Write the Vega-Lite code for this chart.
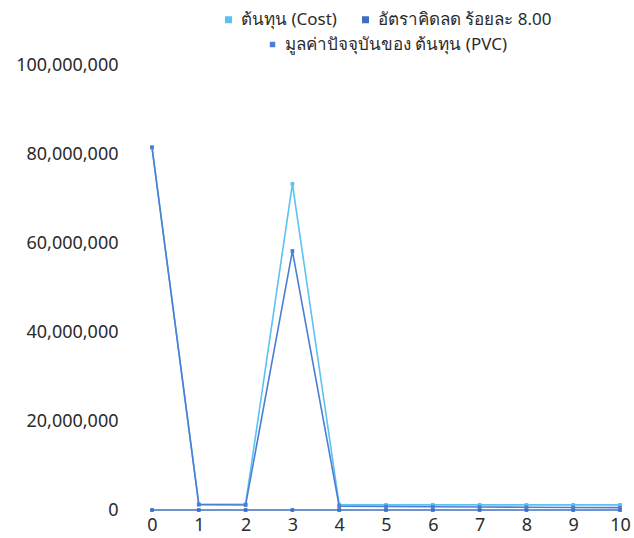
{
  "$schema": "https://vega.github.io/schema/vega-lite/v6.json",
  "width": 468,
  "height": 445,
  "autosize": "none",
  "padding": {"left": 152, "top": 65, "right": 14, "bottom": 28},
  "background": "white",
  "config": {
    "view": {"stroke": null},
    "font": "Noto Sans",
    "axis": {"grid": false, "domain": false, "ticks": false, "labelFont": "Noto Sans", "labelColor": "#2b2b2b", "labelFontSize": 18},
    "legend": {
      "labelFont": "Noto Sans", "labelFontSize": 17, "labelColor": "#2b2b2b", "labelLimit": 400,
      "layout": {"top": {"anchor": "middle", "direction": "vertical", "center": true, "margin": 8}}
    }
  },
  "data": {
    "values": [
      {"year": 0, "series": "ต้นทุน (Cost)", "value": 81500000},
      {"year": 1, "series": "ต้นทุน (Cost)", "value": 1300000},
      {"year": 2, "series": "ต้นทุน (Cost)", "value": 1300000},
      {"year": 3, "series": "ต้นทุน (Cost)", "value": 73300000},
      {"year": 4, "series": "ต้นทุน (Cost)", "value": 1200000},
      {"year": 5, "series": "ต้นทุน (Cost)", "value": 1150000},
      {"year": 6, "series": "ต้นทุน (Cost)", "value": 1150000},
      {"year": 7, "series": "ต้นทุน (Cost)", "value": 1150000},
      {"year": 8, "series": "ต้นทุน (Cost)", "value": 1150000},
      {"year": 9, "series": "ต้นทุน (Cost)", "value": 1150000},
      {"year": 10, "series": "ต้นทุน (Cost)", "value": 1150000},
      {"year": 0, "series": "อัตราคิดลด ร้อยละ 8.00", "value": 8},
      {"year": 1, "series": "อัตราคิดลด ร้อยละ 8.00", "value": 8},
      {"year": 2, "series": "อัตราคิดลด ร้อยละ 8.00", "value": 8},
      {"year": 3, "series": "อัตราคิดลด ร้อยละ 8.00", "value": 8},
      {"year": 4, "series": "อัตราคิดลด ร้อยละ 8.00", "value": 8},
      {"year": 5, "series": "อัตราคิดลด ร้อยละ 8.00", "value": 8},
      {"year": 6, "series": "อัตราคิดลด ร้อยละ 8.00", "value": 8},
      {"year": 7, "series": "อัตราคิดลด ร้อยละ 8.00", "value": 8},
      {"year": 8, "series": "อัตราคิดลด ร้อยละ 8.00", "value": 8},
      {"year": 9, "series": "อัตราคิดลด ร้อยละ 8.00", "value": 8},
      {"year": 10, "series": "อัตราคิดลด ร้อยละ 8.00", "value": 8},
      {"year": 0, "series": "มูลค่าปัจจุบันของ ต้นทุน (PVC)", "value": 81500000},
      {"year": 1, "series": "มูลค่าปัจจุบันของ ต้นทุน (PVC)", "value": 1200000},
      {"year": 2, "series": "มูลค่าปัจจุบันของ ต้นทุน (PVC)", "value": 1110000},
      {"year": 3, "series": "มูลค่าปัจจุบันของ ต้นทุน (PVC)", "value": 58200000},
      {"year": 4, "series": "มูลค่าปัจจุบันของ ต้นทุน (PVC)", "value": 880000},
      {"year": 5, "series": "มูลค่าปัจจุบันของ ต้นทุน (PVC)", "value": 780000},
      {"year": 6, "series": "มูลค่าปัจจุบันของ ต้นทุน (PVC)", "value": 725000},
      {"year": 7, "series": "มูลค่าปัจจุบันของ ต้นทุน (PVC)", "value": 670000},
      {"year": 8, "series": "มูลค่าปัจจุบันของ ต้นทุน (PVC)", "value": 620000},
      {"year": 9, "series": "มูลค่าปัจจุบันของ ต้นทุน (PVC)", "value": 575000},
      {"year": 10, "series": "มูลค่าปัจจุบันของ ต้นทุน (PVC)", "value": 530000}
    ]
  },
  "encoding": {
    "x": {"field": "year", "type": "quantitative", "scale": {"domain": [0, 10], "nice": false}, "axis": {"title": null, "values": [0,1,2,3,4,5,6,7,8,9,10], "format": "d", "labelPadding": 6, "labelFlush": false}},
    "y": {"field": "value", "type": "quantitative", "scale": {"domain": [0, 100000000], "nice": false}, "axis": {"title": null, "values": [0, 20000000, 40000000, 60000000, 80000000, 100000000], "format": ",d", "labelPadding": 34}},
    "order": {"field": "year"}
  },
  "layer": [
    {
      "transform": [{"filter": "datum.series !== 'มูลค่าปัจจุบันของ ต้นทุน (PVC)'"}],
      "mark": {"type": "line", "strokeWidth": 1.6, "point": {"shape": "square", "size": 14, "filled": true}},
      "encoding": {
        "color": {
          "field": "series", "type": "nominal",
          "scale": {"domain": ["ต้นทุน (Cost)", "อัตราคิดลด ร้อยละ 8.00"], "range": ["#5cc2f2", "#3d6fc2"]},
          "legend": {"title": null, "orient": "top", "direction": "horizontal", "symbolType": "square", "symbolSize": 30, "columnPadding": 20, "offset": 12,
            "encode": {"symbols": {"update": {"size": {"value": 30}}}}}
        }
      }
    },
    {
      "transform": [{"filter": "datum.series === 'มูลค่าปัจจุบันของ ต้นทุน (PVC)'"}],
      "mark": {"type": "line", "strokeWidth": 1.6},
      "encoding": {
        "stroke": {
          "field": "series", "type": "nominal",
          "scale": {"domain": ["มูลค่าปัจจุบันของ ต้นทุน (PVC)"], "range": ["#4a7fd4"]},
          "legend": null
        }
      }
    },
    {
      "transform": [{"filter": "datum.series === 'มูลค่าปัจจุบันของ ต้นทุน (PVC)'"}],
      "mark": {"type": "point", "shape": "square", "size": 14, "filled": true, "opacity": 1},
      "encoding": {
        "fill": {
          "field": "series", "type": "nominal",
          "scale": {"domain": ["มูลค่าปัจจุบันของ ต้นทุน (PVC)"], "range": ["#4a7fd4"]},
          "legend": {"title": null, "orient": "top", "direction": "horizontal", "symbolType": "square", "symbolSize": 30, "offset": 12,
            "encode": {"symbols": {"update": {"size": {"value": 30}}}}}
        }
      }
    }
  ],
  "resolve": {"scale": {"color": "independent", "fill": "independent", "stroke": "independent"}}
}
